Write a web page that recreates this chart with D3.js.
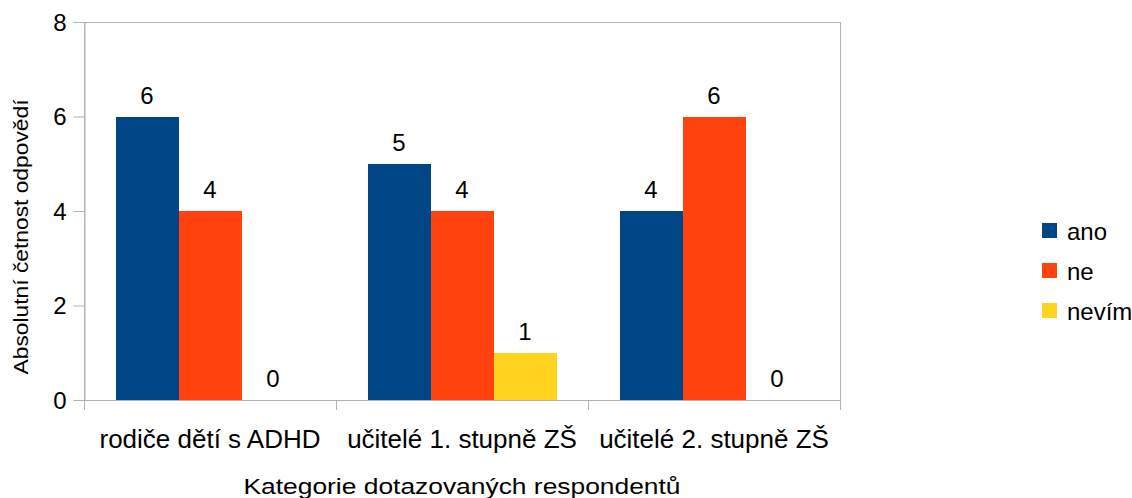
<!DOCTYPE html>
<html><head><meta charset="utf-8">
<script src="https://cdn.jsdelivr.net/npm/d3@7"></script>
<style>body{margin:0;background:#fff;} text{font-family:"Liberation Sans",Arial,sans-serif;fill:#000;}</style>
</head><body><svg id="c" width="1132" height="498"></svg>
<script>
const categories = ["rodiče dětí s ADHD", "učitelé 1. stupně ZŠ", "učitelé 2. stupně ZŠ"];
const seriesNames = ["ano", "ne", "nevím"];
const ano = [6, 5, 4];
const ne = [4, 4, 6];
const nevim = [0, 1, 0];
const yTicks = [0, 2, 4, 6, 8];
const colors = ["#004586", "#ff420e", "#ffd320"];
const seriesValues = [ano, ne, nevim];

const svg = d3.select("#c");
const L = 84, R = 840, T = 22, B = 400;
const x = d3.scaleBand().domain(categories).range([L, R]).paddingInner(0).paddingOuter(0);
const x1 = d3.scaleBand().domain(seriesNames).range([0, x.bandwidth()]).paddingOuter(0.5).paddingInner(0);
const y = d3.scaleLinear().domain([0, 8]).range([B, T]);

// plot border
svg.append("rect").attr("x", L + 0.5).attr("y", T + 0.5).attr("width", R - L).attr("height", B - T)
  .attr("fill", "none").attr("stroke", "#b3b3b3").attr("stroke-width", 1);

// y axis
const ya = svg.append("g").attr("transform", `translate(${L + 0.5},0)`)
  .call(d3.axisLeft(y).tickValues(yTicks).tickSize(11).tickPadding(7));
ya.select(".domain").attr("stroke", "#b3b3b3");
ya.selectAll(".tick line").attr("stroke", "#b3b3b3");
ya.selectAll("text").style("font-size", "24px").attr("dy", "0.35em");

// x axis labels
const xa = svg.append("g").attr("transform", `translate(0,${B})`)
  .call(d3.axisBottom(x).tickSize(0).tickPadding(0));
xa.select(".domain").remove();
xa.selectAll(".tick text").attr("dy", null).attr("y", 48).style("font-size", "25px")
  .attr("transform", "scale(1.04,1)");
const bounds = [L, ...categories.map(c => x(c) + x.bandwidth())];
svg.append("g").selectAll("line").data(bounds).join("line")
  .attr("x1", d => d + 0.5).attr("x2", d => d + 0.5).attr("y1", B).attr("y2", B + 10)
  .attr("stroke", "#b3b3b3");

// bars
const data = [];
categories.forEach((c, i) => seriesNames.forEach((s, j) => data.push({c, s, v: seriesValues[j][i], col: colors[j]})));
const g = svg.append("g");
g.selectAll("rect").data(data).join("rect")
  .attr("x", d => x(d.c) + x1(d.s)).attr("width", x1.bandwidth())
  .attr("y", d => y(d.v)).attr("height", d => B - y(d.v)).attr("fill", d => d.col)
  .attr("shape-rendering", "crispEdges");
g.selectAll("text").data(data).join("text")
  .attr("x", d => x(d.c) + x1(d.s) + x1.bandwidth() / 2).attr("y", d => y(d.v) - 13)
  .attr("text-anchor", "middle").style("font-size", "24px").text(d => d.v);

// axis titles
svg.append("text").attr("transform", "translate(462,494) scale(1.2,1)").attr("text-anchor", "middle")
  .style("font-size", "22px").text("Kategorie dotazovaných respondentů");
svg.append("text").attr("transform", `translate(28,237) rotate(-90) scale(1.14,1)`).attr("text-anchor", "middle")
  .style("font-size", "20px").text("Absolutní četnost odpovědí");

// legend
const lg = svg.append("g").attr("transform", "translate(1042,223)");
seriesNames.forEach((s, i) => {
  lg.append("rect").attr("x", 0).attr("y", i * 40).attr("width", 15).attr("height", 15).attr("fill", colors[i]);
  lg.append("text").attr("x", 25).attr("y", i * 40 + 17).style("font-size", "24px").text(s);
});
</script></body></html>
